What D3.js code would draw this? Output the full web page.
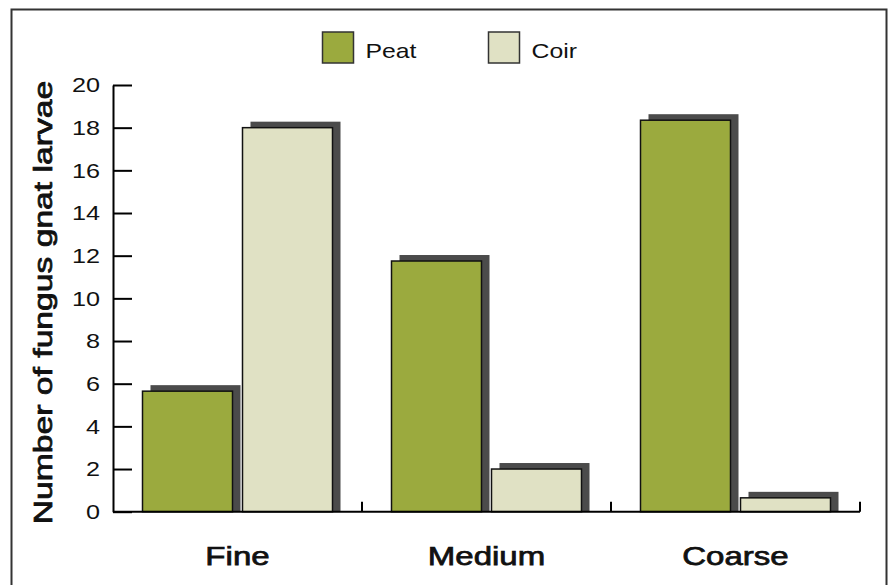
<!DOCTYPE html>
<html>
<head>
<meta charset="utf-8">
<script src="https://cdn.jsdelivr.net/npm/d3@7"></script>
<style>
  html, body { margin: 0; padding: 0; background: #fff; }
  svg { display: block; }
</style>
</head>
<body>
<svg id="chart" width="896" height="585"></svg>
<script>
// Larvae counts per growing-medium particle size
const categories = ["Fine", "Medium", "Coarse"];
const seriesNames = ["Peat", "Coir"];
const peatValues = [5.65, 11.75, 18.35];
const coirValues = [18.0, 2.0, 0.65];
const yTicks = [0, 2, 4, 6, 8, 10, 12, 14, 16, 18, 20];

const colors = { Peat: "#9baa3e", Coir: "#e0e1c4" };
const shadowColor = "#4b4b4b";
const FONT = "'Liberation Sans', Arial, Helvetica, sans-serif";

// widen text horizontally (the chart uses an expanded typeface)
function stretch(sel, factor) {
  sel.each(function () {
    const w = this.getComputedTextLength();
    d3.select(this).attr("textLength", w * factor).attr("lengthAdjust", "spacingAndGlyphs");
  });
}

// medium weight: regular glyphs with a thin outline
function medium(sel) {
  sel.attr("stroke", "#111").attr("stroke-width", 0.75).attr("paint-order", "stroke");
}

const svg = d3.select("#chart");

// outer frame
svg.append("rect")
  .attr("x", 11.5).attr("y", 9.5)
  .attr("width", 875).attr("height", 620)
  .attr("fill", "none").attr("stroke", "#333").attr("stroke-width", 2);

const plot = { left: 113, right: 860, top: 85, bottom: 511.7 };

const y = d3.scaleLinear().domain([0, 20]).range([plot.bottom, plot.top]);
const x0 = d3.scaleBand().domain(categories).range([plot.left, plot.right]);
const x1 = d3.scaleBand().domain(seriesNames).range([0, x0.bandwidth()])
  .paddingInner(0.1).paddingOuter(0.295);

const rows = categories.map((c, i) => ({
  category: c,
  values: [
    { key: "Peat", value: peatValues[i] },
    { key: "Coir", value: coirValues[i] }
  ]
}));

const groups = svg.append("g").selectAll("g")
  .data(rows).join("g")
  .attr("transform", d => `translate(${x0(d.category)},0)`);

// drop shadows behind each bar
groups.selectAll("rect.shadow")
  .data(d => d.values).join("rect")
  .attr("class", "shadow")
  .attr("x", d => x1(d.key) + 8)
  .attr("y", d => y(d.value) - 6)
  .attr("width", x1.bandwidth())
  .attr("height", d => y(0) - y(d.value) + 6)
  .attr("fill", shadowColor);

groups.selectAll("rect.bar")
  .data(d => d.values).join("rect")
  .attr("class", "bar")
  .attr("x", d => x1(d.key))
  .attr("y", d => y(d.value))
  .attr("width", x1.bandwidth())
  .attr("height", d => y(0) - y(d.value))
  .attr("fill", d => colors[d.key])
  .attr("stroke", "#111").attr("stroke-width", 1.5);

// y axis with inward ticks
const yAxis = d3.axisLeft(y).tickValues(yTicks).tickSize(-19).tickSizeOuter(0).tickPadding(13);
const yg = svg.append("g").attr("transform", `translate(${plot.left},0)`).call(yAxis);
yg.select(".domain").attr("stroke", "#000").attr("stroke-width", 2);
yg.selectAll(".tick line").attr("stroke", "#000").attr("stroke-width", 2);
yg.selectAll(".tick text")
  .attr("font-family", FONT)
  .attr("font-size", 21).attr("fill", "#111")
  .call(stretch, 1.2);

// x axis baseline with category separators
svg.append("line")
  .attr("x1", plot.left).attr("x2", plot.right)
  .attr("y1", y(0)).attr("y2", y(0))
  .attr("stroke", "#000").attr("stroke-width", 2);
svg.append("g").selectAll("line")
  .data(categories).join("line")
  .attr("x1", d => x0(d) + x0.bandwidth()).attr("x2", d => x0(d) + x0.bandwidth())
  .attr("y1", y(0)).attr("y2", y(0) - 10)
  .attr("stroke", "#000").attr("stroke-width", 2);

svg.append("g").selectAll("text")
  .data(categories).join("text")
  .attr("x", d => x0(d) + x0.bandwidth() / 2)
  .attr("y", 565)
  .attr("text-anchor", "middle")
  .attr("font-family", FONT)
  .attr("font-size", 26).attr("fill", "#111")
  .text(d => d)
  .call(stretch, 1.27)
  .call(medium);

// y axis title
svg.append("text")
  .attr("transform", "translate(51.5,302.5) rotate(-90)")
  .attr("text-anchor", "middle")
  .attr("font-family", FONT)
  .attr("font-size", 26.5).attr("fill", "#111")
  .text("Number of fungus gnat larvae")
  .call(stretch, 1.27)
  .call(medium);

// legend
const legendX = [322.5, 488.5];
const legend = svg.append("g").selectAll("g")
  .data(seriesNames).join("g")
  .attr("transform", (d, i) => `translate(${legendX[i]},32)`);
legend.append("rect")
  .attr("width", 31).attr("height", 31)
  .attr("fill", d => colors[d]).attr("stroke", "#333").attr("stroke-width", 1.5);
legend.append("text")
  .attr("x", 43).attr("y", 25.5)
  .attr("font-family", FONT)
  .attr("font-size", 21).attr("fill", "#111")
  .text(d => d)
  .call(stretch, 1.18);
</script>
</body>
</html>
